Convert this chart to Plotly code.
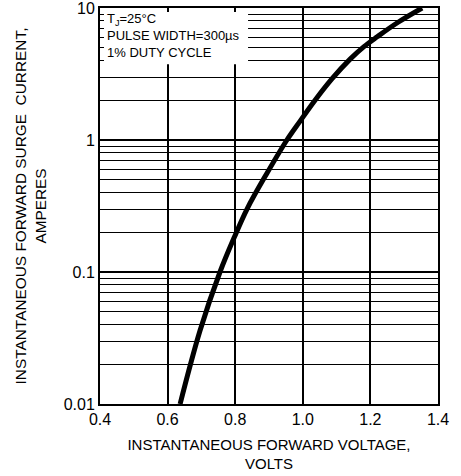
import math
import plotly.graph_objects as go

# Curve data (forward voltage in V, surge current in A)
voltage = [0.637, 0.696, 0.755, 0.796, 0.835, 0.894, 0.953, 0.992, 1.033, 1.086,
           1.140, 1.181, 1.220, 1.282, 1.353]
current = [0.01, 0.036, 0.1, 0.18, 0.30, 0.56, 1.0, 1.39, 1.95, 2.9,
           4.1, 5.1, 6.05, 7.8, 10.0]

x_ticks = [0.4, 0.6, 0.8, 1.0, 1.2, 1.4]
x_ticktext = ["0.4", "0.6", "0.8", "1.0", "1.2", "1.4"]
y_ticks = [0.01, 0.1, 1, 10]
y_ticktext = ["0.01", "0.1", "1", "10"]
y_minor = [m * d for d in (0.01, 0.1, 1) for m in range(2, 10)]

font_family = "Liberation Sans, Arial, sans-serif"

fig = go.Figure()
fig.add_trace(go.Scatter(
    x=voltage, y=current, mode="lines",
    line=dict(color="black", width=5, shape="spline", smoothing=1.0),
    showlegend=False, hoverinfo="skip",
))

fig.update_layout(
    width=461, height=476,
    margin=dict(l=100, r=23, t=8, b=72),
    paper_bgcolor="white", plot_bgcolor="white",
    font=dict(family=font_family, color="black"),
    xaxis=dict(
        range=[0.4, 1.4], tickvals=x_ticks, ticktext=x_ticktext,
        showgrid=True, gridcolor="black", gridwidth=1.5,
        showline=True, linecolor="black", linewidth=2, mirror="ticks",
        ticks="inside", ticklen=4, tickcolor="black", tickwidth=1.5,
        tickfont=dict(size=16, family=font_family), ticklabeloverflow="allow",
        title=dict(text="INSTANTANEOUS FORWARD VOLTAGE,<br>VOLTS",
                   font=dict(size=15, family=font_family), standoff=12),
        zeroline=False, automargin=False,
    ),
    yaxis=dict(
        type="log", range=[-2, 1], tickvals=y_ticks, ticktext=y_ticktext,
        showgrid=True, gridcolor="black", gridwidth=1.5,
        minor=dict(tickvals=y_minor, showgrid=True, gridcolor="black",
                   gridwidth=1.2, ticks="inside", ticklen=4, tickcolor="black"),
        showline=True, linecolor="black", linewidth=2, mirror="ticks",
        ticks="inside", ticklen=4, tickcolor="black",
        tickfont=dict(size=16, family=font_family), ticklabeloverflow="allow",
        title=dict(text="INSTANTANEOUS FORWARD SURGE\u00a0 CURRENT,<br>AMPERES",
                   font=dict(size=15.4, family=font_family), standoff=13),
        zeroline=False, automargin=False,
    ),
)

# white box hiding the grid behind the test-conditions text
fig.add_shape(type="rect", xref="x", yref="y", x0=0.403, x1=0.838, y0=3.75, y1=9.85,
              fillcolor="white", line=dict(width=0), layer="between")

fig.add_annotation(
    xref="x", yref="y", x=0.415, y=math.log10(9.8), xanchor="left", yanchor="top",
    text="T<sub>J</sub>=25°C<br>PULSE WIDTH=300µs<br>1% DUTY CYCLE",
    showarrow=False, align="left",
    font=dict(size=13, family=font_family, color="black"),
)

fig.write_html("out.html", config={"displayModeBar": False},
               post_script="document.body.style.margin='0';")
